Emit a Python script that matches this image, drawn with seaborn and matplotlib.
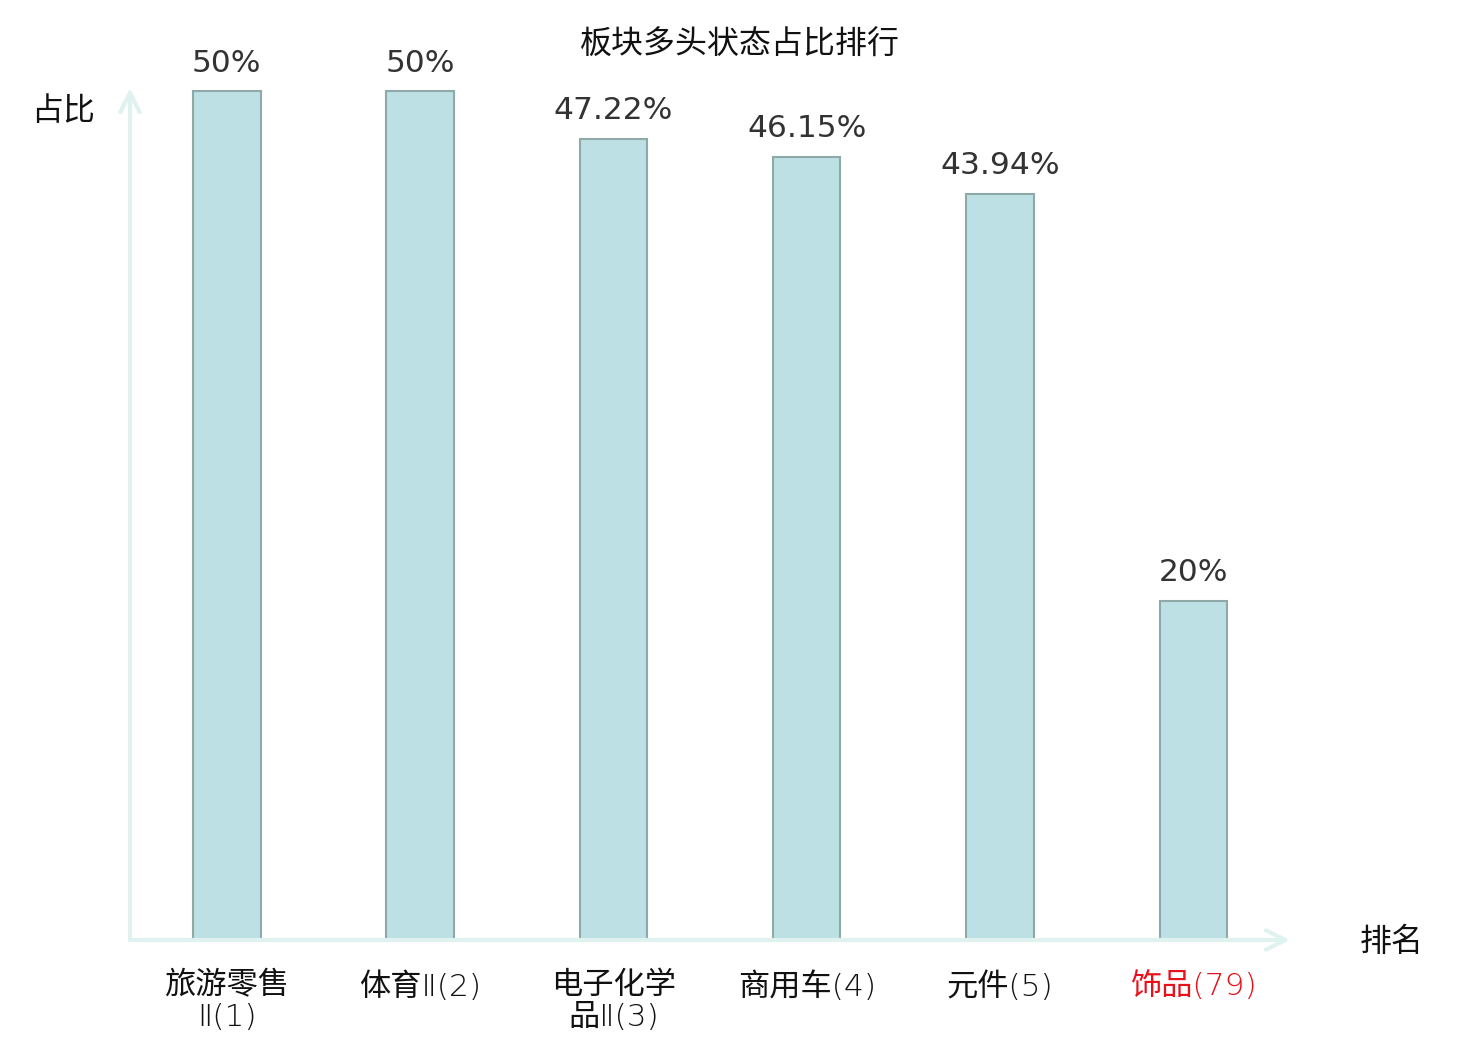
import matplotlib
matplotlib.use("Agg")
import matplotlib.pyplot as plt
import seaborn as sns
import pandas as pd

categories = ["旅游零售\nⅡ(1)", "体育Ⅱ(2)", "电子化学\n品Ⅱ(3)", "商用车(4)", "元件(5)", "饰品(79)"]
values = [50, 50, 47.22, 46.15, 43.94, 20]
value_labels = ["50%", "50%", "47.22%", "46.15%", "43.94%", "20%"]
label_colors = ["#111111", "#111111", "#111111", "#111111", "#111111", "#e8101a"]
title = "板块多头状态占比排行"
y_name = "占比"
x_name = "排名"

sns.set_theme(style="white")
plt.rcParams['font.family'] = ['DejaVu Sans', 'Noto Sans CJK SC']
cjk = ['Noto Sans CJK SC', 'DejaVu Sans']
mixed = ['DejaVu Sans', 'Noto Sans CJK SC']

df = pd.DataFrame({"cat": categories, "val": values})

fig = plt.figure(figsize=(14.8, 10.4), dpi=100)
ax = fig.add_axes([130/1480, 100/1040, 1160/1480, 852/1040])

sns.barplot(data=df, x="cat", y="val", ax=ax, color="#bce0e3", saturation=1,
            width=0.35, edgecolor="#8fa9a9", linewidth=1.5)

ax.set_xlim(-0.5, 5.5)
ax.set_ylim(0, 50.2)
for s in ax.spines.values():
    s.set_visible(False)
ax.set_yticks([])
ax.set_xlabel("")
ax.set_ylabel("")
ax.tick_params(axis="x", length=0, pad=22.5)
ax.set_xticks(range(len(categories)))
ax.set_xticklabels(categories, fontfamily=mixed, fontsize=22.5, linespacing=1.12,
                   fontweight="light")
for t, c in zip(ax.get_xticklabels(), label_colors):
    t.set_color(c)

ax.bar_label(ax.containers[0], labels=value_labels, padding=10, fontsize=22.5,
             color="#333333", fontfamily="DejaVu Sans")

axis_col = "#dff2ef"
ax.annotate("", xy=(1.0, 0), xytext=(0, 0), xycoords="axes fraction",
            arrowprops=dict(arrowstyle="->", color=axis_col, lw=3, mutation_scale=35,
                            shrinkA=0, shrinkB=0), annotation_clip=False)
ax.annotate("", xy=(0, 1.0), xytext=(0, 0), xycoords="axes fraction",
            arrowprops=dict(arrowstyle="->", color=axis_col, lw=3, mutation_scale=35,
                            shrinkA=0, shrinkB=0), annotation_clip=False)

fig.text(63/1480, 1 - 111/1040, y_name, fontfamily=cjk, fontsize=23,
         ha="center", va="center", color="#111111")
fig.text(1392/1480, 1 - 942/1040, x_name, fontfamily=cjk, fontsize=23,
         ha="center", va="center", color="#111111")
fig.text(740/1480, 1 - 45/1040, title, fontfamily=cjk, fontsize=23,
         ha="center", va="center", color="#111111")

fig.savefig("out.png", dpi=100, facecolor="white")
